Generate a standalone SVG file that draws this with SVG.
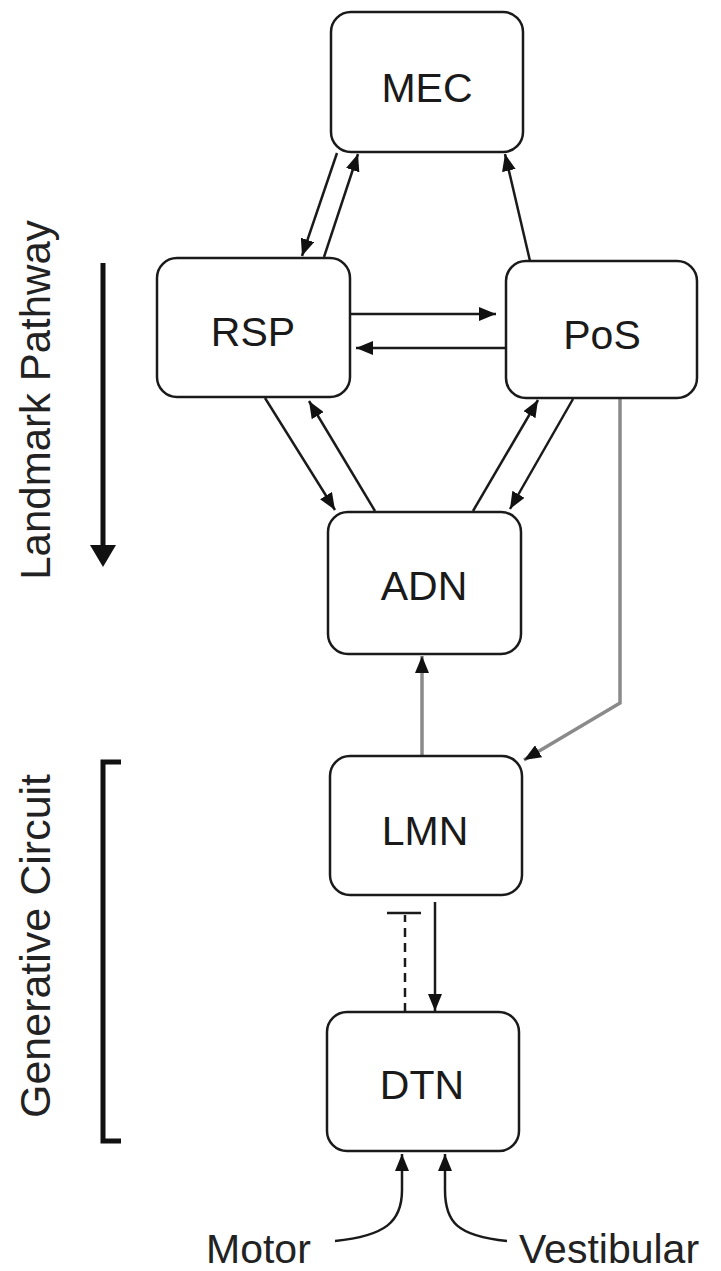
<svg xmlns="http://www.w3.org/2000/svg" width="721" height="1271" viewBox="0 0 721 1271">
<style>
.node rect{fill:#fff;stroke:#1a1a1a;stroke-width:2.5}
.node text{font-family:"Liberation Sans",Arial,sans-serif;font-size:41px;fill:#1a1a1a;text-anchor:middle}
.c{fill:none;stroke:#1a1a1a;stroke-width:2.5}
.g{fill:none;stroke:#8a8a8a;stroke-width:3.5}
.lbl{font-family:"Liberation Sans",Arial,sans-serif;font-size:41px;fill:#222}
.side{font-family:"Liberation Sans",Arial,sans-serif;font-size:42px;fill:#222;text-anchor:middle}
</style>
<defs>
<marker id="ah" markerUnits="userSpaceOnUse" markerWidth="18" markerHeight="14" refX="17" refY="7" orient="auto">
<path d="M0,0 L17,7 L0,14 z" fill="#111"/>
</marker>
<marker id="big" markerUnits="userSpaceOnUse" markerWidth="24" markerHeight="26" refX="22" refY="13" orient="auto">
<path d="M0,0 L22,13 L0,26 z" fill="#111"/>
</marker>
</defs>
<rect width="721" height="1271" fill="#fff"/>

<g id="side-labels">
<text class="side" transform="translate(50,400) rotate(-90)">Landmark Pathway</text>
<line x1="103" y1="263" x2="103" y2="546" stroke="#111" stroke-width="5"/>
<path d="M90,545 L116,545 L103,567 z" fill="#111"/>
<text class="side" style="font-size:43px" transform="translate(50,946) rotate(-90)">Generative Circuit</text>
<path d="M121,762 L103,762 L103,1141 L121,1141" fill="none" stroke="#111" stroke-width="5"/>
</g>

<g id="connectors">
<path class="c" d="M337,153 L302,256" marker-end="url(#ah)"/>
<path class="c" d="M324,257 L358,154" marker-end="url(#ah)"/>
<path class="c" d="M530,261 L505,154" marker-end="url(#ah)"/>
<path class="c" d="M351,314 L496,314" marker-end="url(#ah)"/>
<path class="c" d="M505,348 L356,348" marker-end="url(#ah)"/>
<path class="c" d="M265,398 L335,510" marker-end="url(#ah)"/>
<path class="c" d="M375,511 L309,401" marker-end="url(#ah)"/>
<path class="c" d="M473,511 L538,400" marker-end="url(#ah)"/>
<path class="c" d="M573,399 L510,509" marker-end="url(#ah)"/>
<path class="g" d="M620,399 L620,703 L524,760" marker-end="url(#ah)"/>
<path class="g" d="M422,756 L422,656" marker-end="url(#ah)"/>
<path class="c" d="M435,902 L435,1011" marker-end="url(#ah)"/>
<path class="c" d="M405,1012 L405,915" stroke-dasharray="9,6"/>
<path class="c" d="M387,913 L421,913"/>
<path class="c" d="M335,1241 C385,1236 402,1222 402,1190 L402,1154" marker-end="url(#ah)"/>
<path class="c" d="M507,1241 C457,1236 445,1222 445,1190 L445,1154" marker-end="url(#ah)"/>
</g>

<g id="MEC" class="node"><rect x="331" y="12" width="192" height="140" rx="20"/><text x="427" y="102">MEC</text></g>
<g id="RSP" class="node"><rect x="157" y="258" width="193" height="139" rx="20"/><text x="253" y="346">RSP</text></g>
<g id="PoS" class="node"><rect x="506" y="261" width="191" height="137" rx="20"/><text x="602" y="349">PoS</text></g>
<g id="ADN" class="node"><rect x="328" y="512" width="193" height="142" rx="20"/><text x="424" y="600">ADN</text></g>
<g id="LMN" class="node"><rect x="330" y="756" width="192" height="139" rx="20"/><text x="425" y="845">LMN</text></g>
<g id="DTN" class="node"><rect x="327" y="1012" width="192" height="139" rx="20"/><text x="422" y="1099">DTN</text></g>

<g id="inputs">
<text class="lbl" x="206" y="1263">Motor</text>
<text class="lbl" x="519" y="1263">Vestibular</text>
</g>
</svg>
